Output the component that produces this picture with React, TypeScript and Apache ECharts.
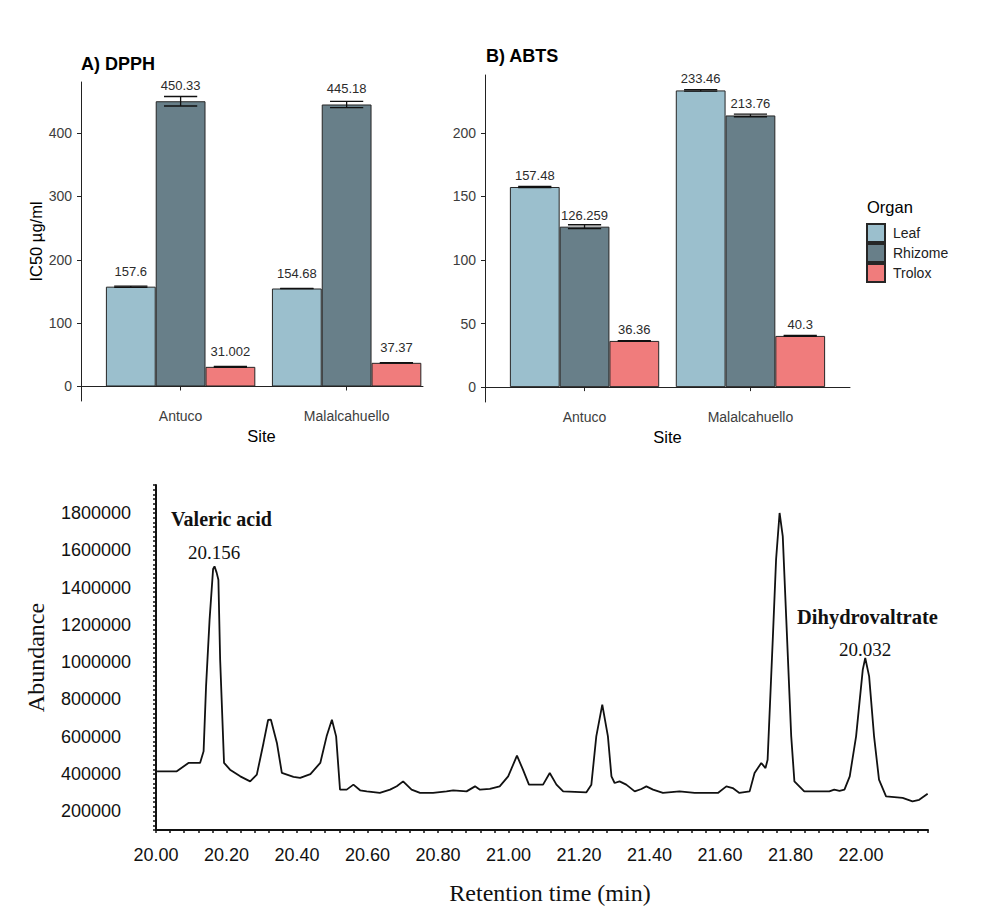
import React, { useEffect, useRef } from "react";
import * as echarts from "echarts";

// ---------- Data ----------
const sites = ["Antuco", "Malalcahuello"];
const organs = ["Leaf", "Rhizome", "Trolox"];

const dpphLeaf = [157.6, 154.68];
const dpphRhizome = [450.33, 445.18];
const dpphTrolox = [31.002, 37.37];
const dpphLeafSd = [1.0, 0.3];
const dpphRhizomeSd = [7.5, 5.0];
const dpphTroloxSd = [0.6, 0.4];

const abtsLeaf = [157.48, 233.46];
const abtsRhizome = [126.259, 213.76];
const abtsTrolox = [36.36, 40.3];
const abtsLeafSd = [0.4, 0.6];
const abtsRhizomeSd = [1.5, 1.0];
const abtsTroloxSd = [0.3, 0.4];

const dpphTicks = [0, 100, 200, 300, 400];
const abtsTicks = [0, 50, 100, 150, 200];

const retentionTime = [
  20.003, 20.059, 20.092, 20.125, 20.135, 20.142, 20.152, 20.162, 20.166, 20.172,
  20.177, 20.182, 20.193, 20.21, 20.239, 20.267, 20.286, 20.305, 20.318, 20.326,
  20.343, 20.357, 20.39, 20.409, 20.438, 20.466, 20.484, 20.499, 20.511, 20.522,
  20.541, 20.56, 20.579, 20.598, 20.635, 20.664, 20.683, 20.701, 20.725, 20.749,
  20.786, 20.824, 20.843, 20.881, 20.905, 20.919, 20.947, 20.975, 20.999, 21.024,
  21.041, 21.058, 21.098, 21.117, 21.136, 21.155, 21.221, 21.235, 21.249, 21.266,
  21.282, 21.292, 21.301, 21.315, 21.334, 21.358, 21.377, 21.391, 21.41, 21.438,
  21.485, 21.528, 21.594, 21.618, 21.636, 21.655, 21.684, 21.698, 21.717, 21.729,
  21.735, 21.75, 21.759, 21.769, 21.778, 21.788, 21.802, 21.811, 21.839, 21.91,
  21.924, 21.939, 21.953, 21.968, 21.986, 22.005, 22.012, 22.023, 22.037, 22.051,
  22.071, 22.118, 22.146, 22.165, 22.189,
];
const abundance = [
  414500, 414500, 459500, 459500, 521700, 870000, 1228000, 1500000, 1513700, 1480000,
  1442000, 1013000, 459500, 423600, 387700, 360900, 396800, 566800, 690000, 691700,
  566800, 405900, 385000, 379100, 400000, 459500, 602200, 691700, 602200, 316400,
  316400, 343200, 313000, 307200, 298700, 316400, 335000, 360900, 316400, 298700,
  298700, 307200, 312000, 307200, 334000, 316400, 320000, 334000, 387700, 498700,
  423600, 343200, 343200, 405900, 343200, 307200, 302000, 343200, 602200, 772100,
  602200, 387700, 352000, 361000, 343200, 307200, 320000, 334000, 316400, 298700,
  307200, 298700, 298700, 334000, 325000, 298700, 307200, 405900, 459500, 432000,
  477000, 1138000, 1549600, 1800000, 1674600, 1228000, 602200, 361000, 307200, 307200,
  316400, 310000, 316400, 387700, 602200, 959800, 1022500, 923900, 602200, 370000,
  280400, 271900, 253600, 262000, 294900,
];
const chromXTicks = [20.0, 20.2, 20.4, 20.6, 20.8, 21.0, 21.2, 21.4, 21.6, 21.8, 22.0];

// ---------- Styles ----------
const SANS = "'Liberation Sans', Arial, sans-serif";
const SERIF = "'Liberation Serif', 'Times New Roman', serif";
const organColors = ["#9BBFCD", "#687F89", "#F07C7C"];
const edge = "#262626";

export default function App() {
  const ref = useRef<HTMLDivElement>(null);

  useEffect(() => {
    if (!ref.current) return;
    const chart = echarts.init(ref.current, undefined, { renderer: "svg" });

    const dpphVals = [dpphLeaf, dpphRhizome, dpphTrolox];
    const dpphSds = [dpphLeafSd, dpphRhizomeSd, dpphTroloxSd];
    const abtsVals = [abtsLeaf, abtsRhizome, abtsTrolox];
    const abtsSds = [abtsLeafSd, abtsRhizomeSd, abtsTroloxSd];

    const barSeries = (vals: number[][], axis: number, dist: number) =>
      organs.map((name, i) => ({
        type: "bar",
        name,
        xAxisIndex: axis,
        yAxisIndex: axis,
        data: vals[i].map((v, s) => [s + 1, v]),
        barGap: "0%",
        barCategoryGap: "10%",
        itemStyle: { color: organColors[i], borderColor: edge, borderWidth: 1 },
        label: {
          show: true,
          position: "top",
          distance: dist,
          fontFamily: SANS,
          fontSize: 13,
          color: "#2b2b2b",
          formatter: (p: any) => String(p.value[1]),
        },
        z: 2,
      }));

    const errData = (vals: number[][], sds: number[][]) => {
      const out: number[][] = [];
      organs.forEach((_, i) => {
        vals[i].forEach((v, s) => {
          out.push([s + 1 + (i - 1) * 0.3, v - sds[i][s], v + sds[i][s]]);
        });
      });
      return out;
    };

    const errRender = (_params: any, api: any) => {
      const x = api.value(0);
      const lo = api.value(1);
      const hi = api.value(2);
      const top = api.coord([x, hi]);
      const bot = api.coord([x, lo]);
      const hw = api.size([0.1, 0])[0];
      const style = { stroke: "#111", lineWidth: 1.3 };
      return {
        type: "group",
        children: [
          { type: "line", shape: { x1: top[0], y1: top[1], x2: bot[0], y2: bot[1] }, style },
          { type: "line", shape: { x1: top[0] - hw, y1: top[1], x2: top[0] + hw, y2: top[1] }, style },
          { type: "line", shape: { x1: bot[0] - hw, y1: bot[1], x2: bot[0] + hw, y2: bot[1] }, style },
        ],
      };
    };

    const barXAxis = (grid: number, max: number, namePad: number) => ({
      type: "value",
      gridIndex: grid,
      min: 0.4,
      max,
      name: "Site",
      nameLocation: "middle",
      nameGap: 26,
      nameTextStyle: { fontFamily: SANS, fontSize: 16.5, color: "#000", padding: [0, 0, 0, namePad] },
      axisLine: { show: true, lineStyle: { color: "#222", width: 1 } },
      axisTick: { show: true, length: 4, customValues: [1, 2], lineStyle: { color: "#222" } },
      axisLabel: {
        customValues: [1, 2],
        formatter: (v: number) => sites[Math.round(v) - 1] ?? "",
        fontFamily: SANS,
        fontSize: 14,
        color: "#3d3d3d",
        margin: 8,
      },
      splitLine: { show: false },
    });

    const barYAxis = (grid: number, min: number, max: number, ticks: number[], name: string) => ({
      type: "value",
      gridIndex: grid,
      min,
      max,
      name,
      nameLocation: "middle",
      nameGap: 37,
      nameTextStyle: { fontFamily: SANS, fontSize: 16.5, color: "#000" },
      axisLine: { show: true, lineStyle: { color: "#222", width: 1 } },
      axisTick: { show: true, length: 4, customValues: ticks, lineStyle: { color: "#222" } },
      axisLabel: { customValues: ticks, fontFamily: SANS, fontSize: 14, color: "#3d3d3d", margin: 9 },
      splitLine: { show: false },
    });

    const option: any = {
      animation: false,
      backgroundColor: "#fff",
      grid: [
        { left: 81, top: 82, width: 342, height: 319 },
        { left: 485, top: 75, width: 365, height: 327 },
        { left: 156, top: 485, width: 772, height: 345 },
      ],
      legend: {
        data: organs,
        orient: "vertical",
        left: 866,
        top: 223,
        padding: 0,
        itemWidth: 18,
        itemHeight: 18,
        itemGap: 0,
        icon: "rect",
        selectedMode: false,
        textStyle: { fontFamily: SANS, fontSize: 14, color: "#222", padding: [0, 0, 0, 3] },
      },
      xAxis: [
        barXAxis(0, 2.46, 19),
        barXAxis(1, 2.6, 0),
        {
          type: "value",
          gridIndex: 2,
          min: 20,
          max: 22.19,
          interval: 0.2,
          name: "Retention time (min)",
          nameLocation: "middle",
          nameGap: 51,
          nameTextStyle: { fontFamily: SERIF, fontSize: 24, color: "#111", padding: [0, 0, 0, 16] },
          axisLine: { show: true, lineStyle: { color: "#111", width: 2 } },
          axisTick: { show: true, length: 3, lineStyle: { color: "#111", width: 1.5 } },
          minorTick: { show: true, splitNumber: 5, length: 3, lineStyle: { color: "#111", width: 1.5 } },
          axisLabel: {
            formatter: (v: number) =>
              chromXTicks.some((t) => Math.abs(t - v) < 1e-6) ? v.toFixed(2) : "",
            fontFamily: SANS,
            fontSize: 18,
            color: "#111",
            margin: 16,
          },
          splitLine: { show: false },
        },
      ],
      yAxis: [
        barYAxis(0, -22.9, 480.7, dpphTicks, "IC50 µg/ml"),
        { ...barYAxis(1, -11.7, 245.6, abtsTicks, ""), name: "" },
        {
          type: "value",
          gridIndex: 2,
          min: 100000,
          max: 1950000,
          interval: 50000,
          name: "Abundance",
          nameLocation: "middle",
          nameGap: 108,
          nameTextStyle: { fontFamily: SERIF, fontSize: 24, color: "#111" },
          axisLine: { show: true, lineStyle: { color: "#111", width: 2 } },
          axisTick: { show: true, length: 3, lineStyle: { color: "#111", width: 1.5 } },
          minorTick: { show: true, splitNumber: 2, length: 3, lineStyle: { color: "#111", width: 1.5 } },
          axisLabel: {
            formatter: (v: number) => (Math.round(v) % 200000 === 0 ? String(Math.round(v)) : ""),
            fontFamily: SANS,
            fontSize: 18,
            color: "#111",
            align: "left",
            margin: 95,
          },
          splitLine: { show: false },
        },
      ],
      series: [
        ...barSeries(dpphVals, 0, 9),
        ...barSeries(abtsVals, 1, 5),
        {
          type: "custom",
          xAxisIndex: 0,
          yAxisIndex: 0,
          renderItem: errRender,
          data: errData(dpphVals, dpphSds),
          z: 3,
        },
        {
          type: "custom",
          xAxisIndex: 1,
          yAxisIndex: 1,
          renderItem: errRender,
          data: errData(abtsVals, abtsSds),
          z: 3,
        },
        {
          type: "line",
          xAxisIndex: 2,
          yAxisIndex: 2,
          data: retentionTime.map((t, i) => [t, abundance[i]]),
          showSymbol: false,
          symbol: "none",
          lineStyle: { color: "#111", width: 1.8 },
        },
      ],
      graphic: [
        { type: "text", left: 81, top: 55, style: { text: "A) DPPH", fontFamily: SANS, fontSize: 18, fontWeight: "bold", fill: "#000" } },
        { type: "text", left: 486, top: 47, style: { text: "B) ABTS", fontFamily: SANS, fontSize: 18, fontWeight: "bold", fill: "#000" } },
        { type: "text", left: 867, top: 198, style: { text: "Organ", fontFamily: SANS, fontSize: 16.5, fill: "#000" } },
        { type: "text", left: 171, top: 509, style: { text: "Valeric acid", fontFamily: SERIF, fontSize: 20, fontWeight: "bold", fill: "#111" } },
        { type: "text", left: 188, top: 543, style: { text: "20.156", fontFamily: SERIF, fontSize: 19, fill: "#111" } },
        { type: "text", left: 797, top: 606, style: { text: "Dihydrovaltrate", fontFamily: SERIF, fontSize: 20.5, fontWeight: "bold", fill: "#111" } },
        { type: "text", left: 839, top: 640, style: { text: "20.032", fontFamily: SERIF, fontSize: 19, fill: "#111" } },
      ],
    };

    chart.setOption(option);
    return () => chart.dispose();
  }, []);

  return (
    <div
      ref={ref}
      style={{ position: "absolute", left: 0, top: 0, width: 986, height: 914, background: "#fff" }}
    />
  );
}
